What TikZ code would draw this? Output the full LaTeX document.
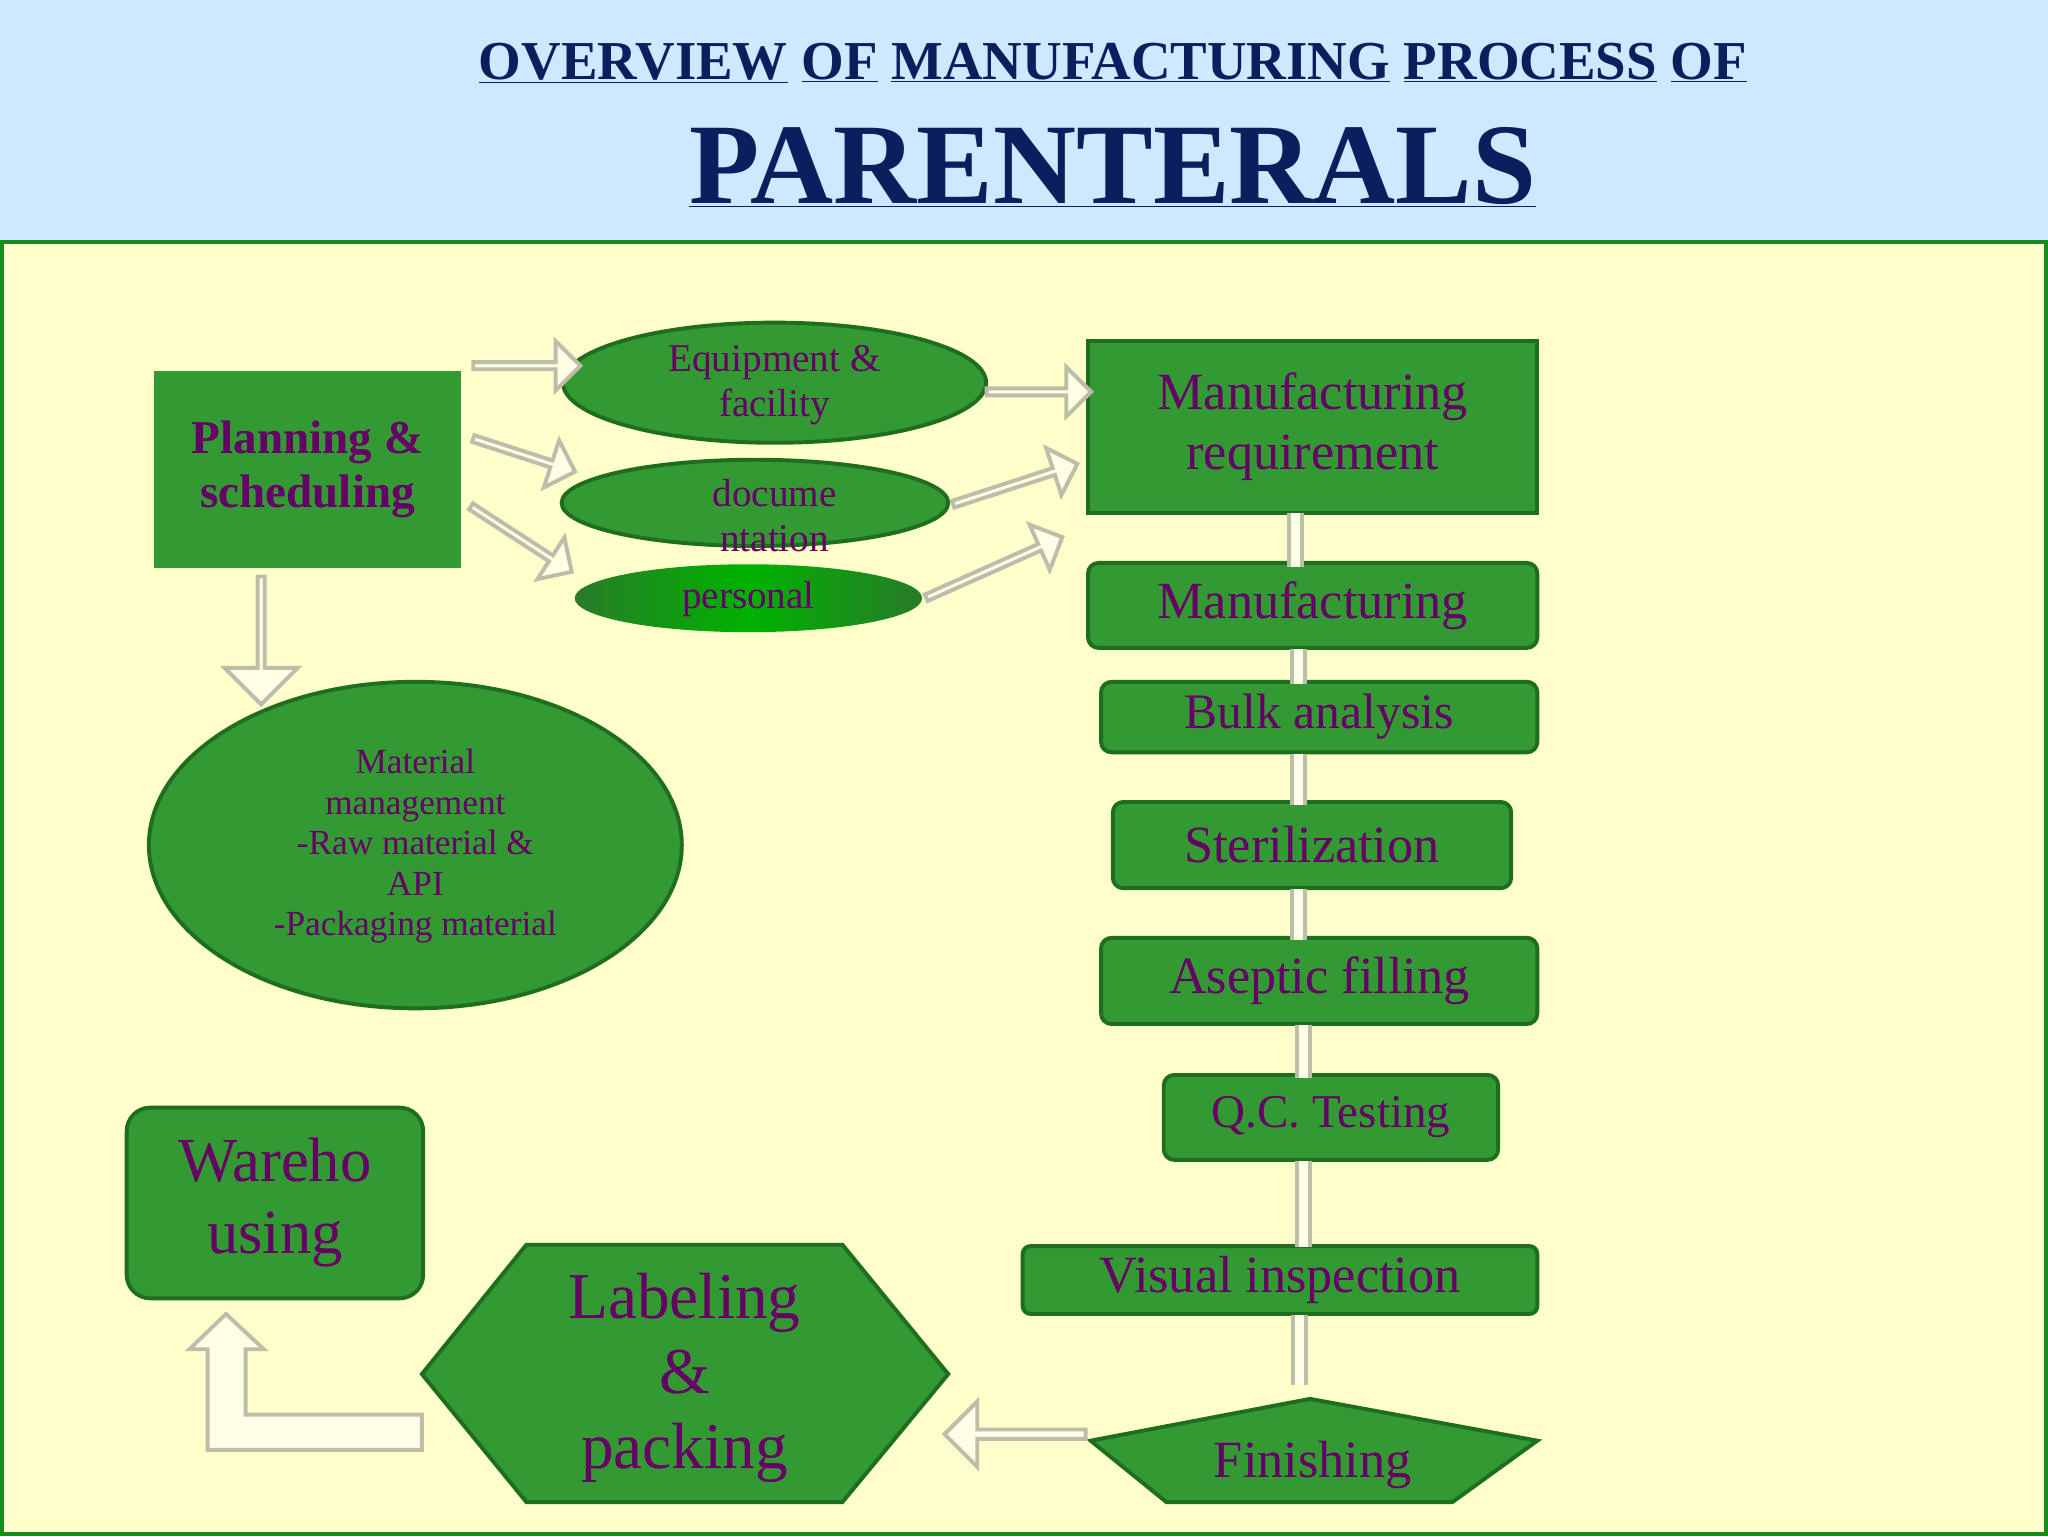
\documentclass[tikz,border=0pt]{standalone}
\usepackage{fontspec}
\setmainfont{Liberation Serif}
\usetikzlibrary{shapes.geometric,shapes.arrows,calc}
\definecolor{gfill}{HTML}{339933}
\definecolor{gline}{HTML}{1F6E1F}
\definecolor{pur}{HTML}{660066}
\definecolor{navy}{HTML}{0B1F5E}
\definecolor{skyb}{HTML}{CCE9FF}
\definecolor{paleY}{HTML}{FFFFCC}
\definecolor{arrF}{HTML}{FFFFE6}
\definecolor{arrL}{HTML}{BDBDAA}
\newcommand{\fs}[1]{\fontsize{#1}{\dimexpr #1pt*115/100\relax}\selectfont}
\tikzset{
 gbox/.style={draw=gline,fill=gfill,line width=3pt,inner sep=0,text=pur,align=center},
 gell/.style={gbox,ellipse},
 barr/.style={single arrow,draw=arrL,fill=arrF,line width=3pt,inner sep=0,
   minimum width=38pt,single arrow head extend=9pt,single arrow tip angle=90},
 vcon/.style={arrL,line width=3pt,double=arrF,double distance=7pt},
 lbl/.style={text=pur,align=center,inner sep=0}
}
\begin{document}
\begin{tikzpicture}[x=1pt,y=-1pt]
\useasboundingbox (0,0) rectangle (1568,1176);
\fill[skyb] (0,0) rectangle (1568,185);
\draw[fill=paleY,draw=gline!80!green,line width=3pt] (1.5,185) rectangle (1566.5,1174.5);
% title
\node[text=navy,font=\bfseries\fs{42}] (t1) at (852,48) {\underline{OVERVIEW} \underline{OF} \underline{MANUFACTURING} \underline{PROCESS} \underline{OF}};
\node[text=navy,font=\bfseries\fs{88}] (t2) at (852,128) {\underline{PARENTERALS}};
% left
\node[gbox,draw=none,minimum width=235pt,minimum height=151pt,font=\bfseries\fs{36}] (plan) at (235.5,359.5) {Planning \&\\scheduling};
\node[gell,minimum width=324pt,minimum height=92pt] (equip) at (593,293) {};
\node[lbl,font=\fs{30}] at (593,295) {Equipment \&\\facility};
\node[gell,minimum width=296pt,minimum height=66pt] (doc) at (578,385) {};
\node[lbl,font=\fs{30},anchor=north] at (593,367) {docume\\ntation};
\shade[ellipse,left color=gfill!80!black,right color=gfill!80!black,middle color=green!70!black,draw=none]
  (573,458) ellipse (133 and 26);
\node[ellipse,minimum width=266pt,minimum height=52pt,inner sep=0] (pers) at (573,458) {};
\node[lbl,font=\fs{30}] at (573,459) {personal};
\node[gell,minimum width=408pt,minimum height=250pt] (mat) at (318,647) {};
\node[lbl,font=\fs{27}] at (318,648) {Material\\management\\-Raw material \&\\API\\-Packaging material};
% right column
\node[gbox,minimum width=344pt,minimum height=132pt,font=\fs{40}] (mreq) at (1005,327) {Manufacturing\\requirement};
\node[gbox,rounded corners=8pt,minimum width=344pt,minimum height=65pt,font=\fs{40}] (manu) at (1005,463.5) {Manufacturing};
\node[gbox,rounded corners=8pt,minimum width=334pt,minimum height=54pt,font=\fs{38}] (bulk) at (1010,549) {Bulk analysis};
\node[gbox,rounded corners=8pt,minimum width=305pt,minimum height=66pt,font=\fs{40}] (ster) at (1004.5,647) {Sterilization};
\node[gbox,rounded corners=8pt,minimum width=334pt,minimum height=66pt,font=\fs{40}] (asep) at (1010,751) {Aseptic filling};
\node[gbox,rounded corners=8pt,minimum width=256pt,minimum height=65pt,font=\fs{36}] (qc) at (1019,855.5) {Q.C. Testing};
\node[gbox,rounded corners=6pt,minimum width=394pt,minimum height=52pt,font=\fs{40}] (vis) at (980,980) {Visual inspection};
\draw[gbox] (835,1103) -- (1003,1071) -- (1177,1103) -- (1112,1150) -- (893,1150) -- cycle;
\coordinate (fin) at (1005,1071);
\node[lbl,font=\fs{40}] (fint) at (1005,1122) {Finishing};
\draw[gbox] (323,1052) -- (403,953) -- (645,953) -- (726,1052) -- (645,1150) -- (403,1150) -- cycle;
\node[lbl,font=\fs{50}] (lab) at (524,1055) {Labeling\\\&\\packing};
\node[gbox,rounded corners=18pt,minimum width=227pt,minimum height=146pt,font=\fs{48}] (ware) at (210.5,921) {Wareho\\using};
% vertical connectors
\draw[vcon] (992,393) -- (992,434);
\draw[vcon] (994,497) -- (994,524);
\draw[vcon] (994,577) -- (994,616);
\draw[vcon] (994,681) -- (994,720);
\draw[vcon] (998,785) -- (998,825);
\draw[vcon] (998,889) -- (998,955);
\draw[vcon] (995,1007) -- (995,1060);
% block arrows
\node[barr,minimum height=82pt] (a1) at (402,280) {};
\node[barr,minimum height=82pt,rotate=-18] (a2) at (400,348) {};
\node[barr,minimum height=92pt,rotate=-33] (a3) at (398,412) {};
\node[barr,minimum height=80pt] (a4) at (794,300) {};
\node[barr,minimum height=100pt,rotate=18] (a5) at (776,371) {};
\node[barr,minimum height=114pt,rotate=24] (a6) at (760,435) {};
\node[barr,minimum height=98pt,minimum width=56pt,single arrow head extend=14pt,rotate=-90] (a7) at (200,489) {};
\node[barr,minimum height=108pt,minimum width=50pt,rotate=180] (a8) at (779,1098) {};
\draw[draw=arrL,fill=arrF,line width=3pt] (323,1083) -- (188,1083) -- (188,1033) -- (202,1033) -- (173,1006) -- (145,1033) -- (159,1033) -- (159,1110) -- (323,1110) -- cycle;
\end{tikzpicture}
\end{document}
